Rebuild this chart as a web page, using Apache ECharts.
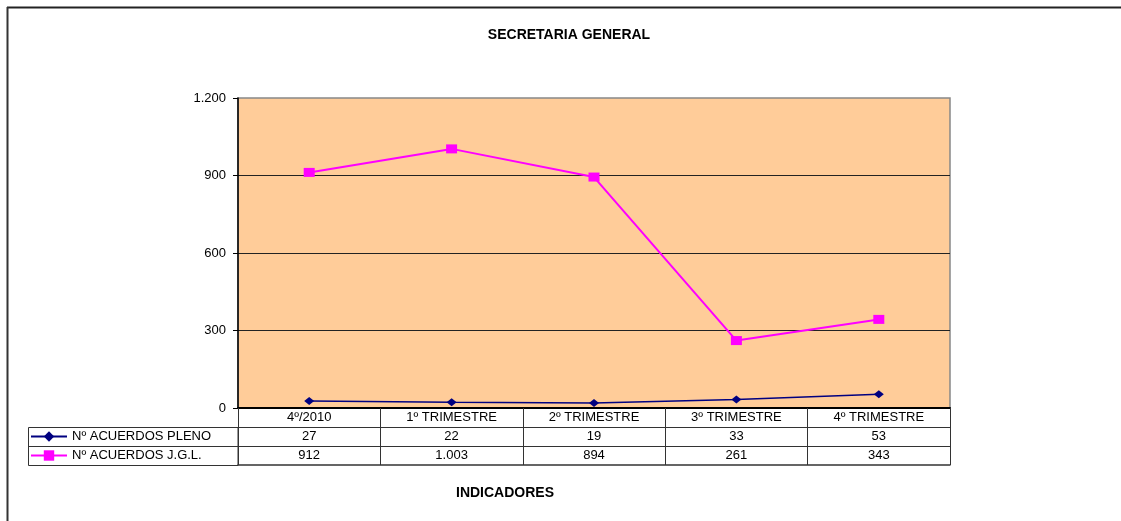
<!DOCTYPE html>
<html>
<head>
<meta charset="utf-8">
<script src="https://cdn.jsdelivr.net/npm/echarts@6/dist/echarts.min.js"></script>
<style>
html,body{margin:0;padding:0;background:#fff;}
#chart{width:1121px;height:521px;}
</style>
</head>
<body>
<div id="chart"></div>
<script>
var categories = ['4º/2010', '1º TRIMESTRE', '2º TRIMESTRE', '3º TRIMESTRE', '4º TRIMESTRE'];
var pleno = [27, 22, 19, 33, 53];
var jgl = [912, 1003, 894, 261, 343];
var yTicks = [0, 300, 600, 900, 1200];

var FONT = '"Liberation Sans", Arial, sans-serif';
var FS = 13;

// numero con punto de miles, como en la hoja original
function fmt(v){
	return String(v).replace(/\B(?=(\d{3})+(?!\d))/g, '.');
}

var rowH = 19;

function tableAxis(values, offset, showLine){
	return {
		type: 'category',
		position: 'bottom',
		offset: offset,
		data: values,
		boundaryGap: true,
		axisLine: { show: showLine, lineStyle: { color: '#333', width: 1 } },
		axisTick: { show: false },
		axisLabel: {
			show: true,
			margin: 3,
			interval: 0,
			color: '#000',
			fontSize: FS,
			fontFamily: FONT
		},
		splitLine: { show: false }
	};
}

var option = {
	backgroundColor: '#fff',
	animation: false,
	title: {
		text: 'SECRETARIA GENERAL',
		left: 569,
		textAlign: 'center',
		top: 28,
		padding: 0,
		textStyle: { fontSize: 14, fontWeight: 'bold', color: '#000', fontFamily: FONT }
	},
	legend: {
		orient: 'vertical',
		left: 30,
		top: 430,
		padding: 0,
		itemWidth: 36,
		itemHeight: 13,
		itemGap: 6,
		textStyle: { fontSize: FS, color: '#000', fontFamily: FONT },
		data: ['Nº ACUERDOS PLENO', 'Nº ACUERDOS J.G.L.']
	},
	grid: {
		left: 238,
		right: 171,
		top: 98,
		bottom: 113,
		show: true,
		backgroundColor: '#FFCC99',
		borderColor: '#888',
		borderWidth: 1.5,
		containLabel: false
	},
	xAxis: [
		{
			type: 'category',
			position: 'bottom',
			data: categories,
			boundaryGap: true,
			axisLine: { show: true, lineStyle: { color: '#000', width: 2 } },
			axisTick: { show: true, interval: 0, length: rowH * 3, lineStyle: { color: '#333', width: 1 } },
			axisLabel: { margin: 3, interval: 0, color: '#000', fontSize: FS, fontFamily: FONT },
			splitLine: { show: false }
		},
		tableAxis(pleno.map(fmt), rowH, true),
		tableAxis(jgl.map(fmt), rowH * 2, true),
		{
			type: 'category',
			position: 'bottom',
			offset: rowH * 3,
			data: categories,
			axisLine: { show: true, lineStyle: { color: '#333', width: 1.5 } },
			axisTick: { show: false },
			axisLabel: { show: false }
		}
	],
	yAxis: {
		type: 'value',
		min: yTicks[0],
		max: yTicks[yTicks.length - 1],
		interval: 300,
		axisLine: { show: true, lineStyle: { color: '#000', width: 1.5 } },
		axisTick: { show: true, length: 5, lineStyle: { color: '#000' } },
		axisLabel: {
			margin: 12,
			color: '#000',
			fontSize: FS,
			fontFamily: FONT,
			formatter: function(v){ return fmt(v); }
		},
		splitLine: { show: true, showMaxLine: false, lineStyle: { color: '#222', width: 1 } }
	},
	graphic: [
		{ type: 'line', shape: { x1: 7, y1: 7.5, x2: 1121, y2: 7.5 }, style: { stroke: '#222', lineWidth: 2 } },
		{ type: 'line', shape: { x1: 7.5, y1: 7, x2: 7.5, y2: 521 }, style: { stroke: '#333', lineWidth: 2 } },
		{ type: 'rect', shape: { x: 28.5, y: 427.5, width: 209.5, height: 38 }, style: { fill: 'none', stroke: '#333', lineWidth: 1 } },
		{ type: 'line', shape: { x1: 28.5, y1: 446.5, x2: 238, y2: 446.5 }, style: { stroke: '#333', lineWidth: 1 } },
		{
			type: 'text',
			x: 505, y: 493,
			style: {
				text: 'INDICADORES',
				align: 'center', verticalAlign: 'middle',
				font: 'bold 14px ' + FONT,
				fill: '#000'
			}
		}
	],
	series: [
		{
			name: 'Nº ACUERDOS PLENO',
			type: 'line',
			data: pleno,
			symbol: 'diamond',
			symbolSize: [10, 8],
			lineStyle: { color: '#000080', width: 1.5 },
			itemStyle: { color: '#000080' },
			z: 3
		},
		{
			name: 'Nº ACUERDOS J.G.L.',
			type: 'line',
			data: jgl,
			symbol: 'rect',
			symbolSize: [11, 9],
			lineStyle: { color: '#FF00FF', width: 2 },
			itemStyle: { color: '#FF00FF' },
			z: 4
		}
	]
};

var myChart = echarts.init(document.getElementById('chart'));
myChart.setOption(option);
</script>
</body>
</html>
